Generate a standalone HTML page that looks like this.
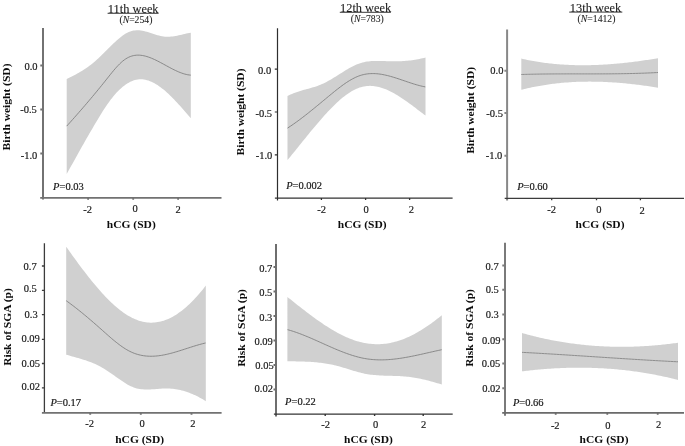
<!DOCTYPE html><html><head><meta charset="utf-8"><title>hCG and birth outcomes by gestational week</title><style>html,body{margin:0;padding:0;background:#fff;overflow:hidden;}svg{display:block;filter:grayscale(1);}</style></head><body>
<svg width="685" height="446" viewBox="0 0 685 446" font-family='"Liberation Serif", serif'>
<rect width="685" height="446" fill="#fff"/>
<g class="g">
<path d="M66.70,79.08 L68.21,78.32 L69.73,77.56 L71.24,76.78 L72.75,76.00 L74.27,75.20 L75.78,74.38 L77.29,73.55 L78.81,72.69 L80.32,71.81 L81.83,70.89 L83.35,69.95 L84.86,68.97 L86.37,67.96 L87.89,66.90 L89.40,65.80 L90.91,64.66 L92.43,63.47 L93.94,62.22 L95.45,60.92 L96.97,59.57 L98.48,58.17 L100.00,56.74 L101.51,55.27 L103.02,53.78 L104.54,52.28 L106.05,50.76 L107.56,49.25 L109.08,47.73 L110.59,46.24 L112.10,44.76 L113.62,43.31 L115.13,41.89 L116.64,40.51 L118.16,39.19 L119.67,37.92 L121.18,36.72 L122.70,35.59 L124.21,34.56 L125.72,33.61 L127.24,32.77 L128.75,32.04 L130.26,31.44 L131.78,30.96 L133.29,30.61 L134.80,30.38 L136.32,30.25 L137.83,30.24 L139.34,30.31 L140.86,30.47 L142.37,30.71 L143.88,31.02 L145.40,31.39 L146.91,31.80 L148.42,32.26 L149.94,32.74 L151.45,33.24 L152.96,33.74 L154.48,34.24 L155.99,34.72 L157.50,35.18 L159.02,35.59 L160.53,35.97 L162.05,36.28 L163.56,36.52 L165.07,36.68 L166.59,36.77 L168.10,36.77 L169.61,36.72 L171.13,36.60 L172.64,36.42 L174.15,36.20 L175.67,35.94 L177.18,35.65 L178.69,35.34 L180.21,35.00 L181.72,34.66 L183.23,34.30 L184.75,33.96 L186.26,33.62 L187.77,33.30 L189.29,33.00 L190.80,32.73 L190.80,118.31 L189.29,116.54 L187.77,114.77 L186.26,113.01 L184.75,111.26 L183.23,109.53 L181.72,107.81 L180.21,106.10 L178.69,104.43 L177.18,102.77 L175.67,101.15 L174.15,99.56 L172.64,98.00 L171.13,96.49 L169.61,95.01 L168.10,93.58 L166.59,92.20 L165.07,90.87 L163.56,89.60 L162.05,88.38 L160.53,87.23 L159.02,86.14 L157.50,85.12 L155.99,84.17 L154.48,83.29 L152.96,82.49 L151.45,81.77 L149.94,81.14 L148.42,80.59 L146.91,80.14 L145.40,79.77 L143.88,79.51 L142.37,79.34 L140.86,79.28 L139.34,79.32 L137.83,79.48 L136.32,79.74 L134.80,80.11 L133.29,80.59 L131.78,81.17 L130.26,81.86 L128.75,82.65 L127.24,83.54 L125.72,84.54 L124.21,85.64 L122.70,86.83 L121.18,88.13 L119.67,89.52 L118.16,91.01 L116.64,92.60 L115.13,94.28 L113.62,96.05 L112.10,97.92 L110.59,99.87 L109.08,101.92 L107.56,104.05 L106.05,106.25 L104.54,108.52 L103.02,110.85 L101.51,113.24 L100.00,115.68 L98.48,118.16 L96.97,120.68 L95.45,123.23 L93.94,125.79 L92.43,128.38 L90.91,130.98 L89.40,133.60 L87.89,136.23 L86.37,138.87 L84.86,141.52 L83.35,144.19 L81.83,146.87 L80.32,149.55 L78.81,152.25 L77.29,154.96 L75.78,157.67 L74.27,160.40 L72.75,163.13 L71.24,165.86 L69.73,168.61 L68.21,171.35 L66.70,174.11 Z" fill="#d0d0d0"/>
<path d="M66.70,126.14 L68.21,124.46 L69.73,122.78 L71.24,121.08 L72.75,119.38 L74.27,117.68 L75.78,115.97 L77.29,114.25 L78.81,112.52 L80.32,110.79 L81.83,109.05 L83.35,107.29 L84.86,105.54 L86.37,103.77 L87.89,101.99 L89.40,100.21 L90.91,98.42 L92.43,96.61 L93.94,94.80 L95.45,92.98 L96.97,91.14 L98.48,89.30 L100.00,87.45 L101.51,85.58 L103.02,83.71 L104.54,81.82 L106.05,79.92 L107.56,78.02 L109.08,76.11 L110.59,74.22 L112.10,72.36 L113.62,70.53 L115.13,68.76 L116.64,67.06 L118.16,65.43 L119.67,63.89 L121.18,62.45 L122.70,61.13 L124.21,59.94 L125.72,58.88 L127.24,57.97 L128.75,57.20 L130.26,56.56 L131.78,56.05 L133.29,55.65 L134.80,55.38 L136.32,55.21 L137.83,55.14 L139.34,55.17 L140.86,55.29 L142.37,55.49 L143.88,55.78 L145.40,56.14 L146.91,56.56 L148.42,57.05 L149.94,57.59 L151.45,58.19 L152.96,58.83 L154.48,59.51 L155.99,60.23 L157.50,60.98 L159.02,61.75 L160.53,62.55 L162.05,63.36 L163.56,64.19 L165.07,65.01 L166.59,65.84 L168.10,66.67 L169.61,67.49 L171.13,68.29 L172.64,69.08 L174.15,69.83 L175.67,70.56 L177.18,71.26 L178.69,71.92 L180.21,72.53 L181.72,73.09 L183.23,73.60 L184.75,74.05 L186.26,74.43 L187.77,74.75 L189.29,74.99 L190.80,75.15" fill="none" stroke="#7c7c7c" stroke-width="0.85"/>
<path d="M43,28V199.5M40.3,65.6H43M40.3,109.4H43M40.3,153.4H43" fill="none" stroke="#727272" stroke-width="2.0"/>
<path d="M40.2,197.9H221.5M88.1,197.9V199.70M133.2,197.9V199.70M178.1,197.9V199.70" fill="none" stroke="#727272" stroke-width="1.8"/>
<path d="M287.50,96.07 L289.00,95.29 L290.50,94.57 L292.00,93.91 L293.50,93.29 L295.00,92.71 L296.50,92.17 L298.00,91.66 L299.50,91.18 L301.00,90.73 L302.50,90.29 L304.00,89.87 L305.50,89.45 L307.00,89.04 L308.50,88.63 L310.00,88.22 L311.50,87.79 L313.00,87.35 L314.50,86.89 L316.00,86.40 L317.50,85.88 L319.00,85.33 L320.50,84.74 L322.00,84.11 L323.50,83.43 L325.00,82.70 L326.50,81.93 L328.00,81.12 L329.50,80.28 L331.00,79.40 L332.50,78.51 L334.00,77.59 L335.50,76.66 L337.00,75.72 L338.50,74.77 L340.00,73.82 L341.50,72.88 L343.00,71.94 L344.50,71.01 L346.00,70.10 L347.50,69.22 L349.00,68.36 L350.50,67.53 L352.00,66.73 L353.50,65.98 L355.00,65.27 L356.50,64.61 L358.00,64.00 L359.50,63.45 L361.00,62.96 L362.50,62.54 L364.00,62.17 L365.50,61.86 L367.00,61.60 L368.50,61.39 L370.00,61.22 L371.50,61.09 L373.00,60.99 L374.50,60.93 L376.00,60.89 L377.50,60.88 L379.00,60.89 L380.50,60.92 L382.00,60.96 L383.50,61.01 L385.00,61.07 L386.50,61.13 L388.00,61.19 L389.50,61.24 L391.00,61.28 L392.50,61.32 L394.00,61.33 L395.50,61.33 L397.00,61.31 L398.50,61.28 L400.00,61.23 L401.50,61.16 L403.00,61.08 L404.50,60.97 L406.00,60.85 L407.50,60.71 L409.00,60.56 L410.50,60.38 L412.00,60.19 L413.50,59.97 L415.00,59.74 L416.50,59.49 L418.00,59.22 L419.50,58.93 L421.00,58.62 L422.50,58.28 L424.00,57.93 L425.50,57.56 L425.50,115.62 L424.00,114.48 L422.50,113.33 L421.00,112.18 L419.50,111.03 L418.00,109.88 L416.50,108.74 L415.00,107.60 L413.50,106.46 L412.00,105.34 L410.50,104.23 L409.00,103.13 L407.50,102.04 L406.00,100.97 L404.50,99.93 L403.00,98.90 L401.50,97.90 L400.00,96.92 L398.50,95.97 L397.00,95.05 L395.50,94.16 L394.00,93.31 L392.50,92.49 L391.00,91.71 L389.50,90.97 L388.00,90.27 L386.50,89.61 L385.00,89.00 L383.50,88.44 L382.00,87.93 L380.50,87.47 L379.00,87.06 L377.50,86.71 L376.00,86.42 L374.50,86.19 L373.00,86.02 L371.50,85.91 L370.00,85.87 L368.50,85.90 L367.00,86.00 L365.50,86.17 L364.00,86.41 L362.50,86.73 L361.00,87.13 L359.50,87.61 L358.00,88.16 L356.50,88.79 L355.00,89.49 L353.50,90.26 L352.00,91.09 L350.50,91.99 L349.00,92.94 L347.50,93.96 L346.00,95.04 L344.50,96.17 L343.00,97.35 L341.50,98.59 L340.00,99.87 L338.50,101.20 L337.00,102.57 L335.50,103.98 L334.00,105.43 L332.50,106.92 L331.00,108.44 L329.50,110.00 L328.00,111.58 L326.50,113.19 L325.00,114.83 L323.50,116.50 L322.00,118.19 L320.50,119.90 L319.00,121.63 L317.50,123.38 L316.00,125.15 L314.50,126.93 L313.00,128.73 L311.50,130.55 L310.00,132.37 L308.50,134.20 L307.00,136.05 L305.50,137.89 L304.00,139.75 L302.50,141.60 L301.00,143.46 L299.50,145.32 L298.00,147.18 L296.50,149.04 L295.00,150.89 L293.50,152.74 L292.00,154.58 L290.50,156.41 L289.00,158.23 L287.50,160.03 Z" fill="#d0d0d0"/>
<path d="M287.50,128.13 L289.01,127.14 L290.53,126.14 L292.04,125.11 L293.56,124.06 L295.07,122.99 L296.59,121.90 L298.10,120.80 L299.61,119.68 L301.13,118.54 L302.64,117.39 L304.16,116.23 L305.67,115.05 L307.19,113.86 L308.70,112.66 L310.21,111.45 L311.73,110.23 L313.24,109.01 L314.76,107.77 L316.27,106.53 L317.79,105.29 L319.30,104.04 L320.81,102.79 L322.33,101.53 L323.84,100.28 L325.36,99.02 L326.87,97.76 L328.39,96.51 L329.90,95.25 L331.41,94.00 L332.93,92.76 L334.44,91.53 L335.96,90.32 L337.47,89.12 L338.99,87.94 L340.50,86.79 L342.01,85.66 L343.53,84.57 L345.04,83.50 L346.56,82.48 L348.07,81.50 L349.59,80.56 L351.10,79.67 L352.61,78.83 L354.13,78.05 L355.64,77.32 L357.16,76.66 L358.67,76.05 L360.19,75.52 L361.70,75.06 L363.21,74.66 L364.73,74.33 L366.24,74.06 L367.76,73.85 L369.27,73.70 L370.79,73.61 L372.30,73.57 L373.81,73.58 L375.33,73.64 L376.84,73.74 L378.36,73.89 L379.87,74.08 L381.39,74.31 L382.90,74.58 L384.41,74.88 L385.93,75.21 L387.44,75.57 L388.96,75.95 L390.47,76.36 L391.99,76.79 L393.50,77.25 L395.01,77.71 L396.53,78.20 L398.04,78.69 L399.56,79.20 L401.07,79.71 L402.59,80.22 L404.10,80.74 L405.61,81.26 L407.13,81.78 L408.64,82.29 L410.16,82.79 L411.67,83.29 L413.19,83.77 L414.70,84.24 L416.21,84.69 L417.73,85.12 L419.24,85.53 L420.76,85.91 L422.27,86.27 L423.79,86.60 L425.30,86.90" fill="none" stroke="#7c7c7c" stroke-width="0.85"/>
<path d="M277.5,28.3V200.5M274.8,69.2H277.5M274.8,112.0H277.5M274.8,154.9H277.5" fill="none" stroke="#2e2e2e" stroke-width="1.2"/>
<path d="M274.9,198.2H452.6M321.4,198.2V200.00M365.6,198.2V200.00M409.6,198.2V200.00" fill="none" stroke="#333333" stroke-width="1.3"/>
<path d="M521.30,58.60 L522.80,58.94 L524.30,59.27 L525.81,59.59 L527.31,59.90 L528.81,60.20 L530.31,60.49 L531.82,60.77 L533.32,61.04 L534.82,61.31 L536.32,61.56 L537.82,61.80 L539.33,62.04 L540.83,62.26 L542.33,62.48 L543.83,62.69 L545.34,62.89 L546.84,63.08 L548.34,63.26 L549.84,63.43 L551.34,63.60 L552.85,63.75 L554.35,63.90 L555.85,64.04 L557.35,64.17 L558.85,64.30 L560.36,64.41 L561.86,64.52 L563.36,64.62 L564.86,64.71 L566.37,64.79 L567.87,64.87 L569.37,64.94 L570.87,65.00 L572.37,65.05 L573.88,65.10 L575.38,65.14 L576.88,65.17 L578.38,65.20 L579.89,65.21 L581.39,65.22 L582.89,65.23 L584.39,65.22 L585.89,65.21 L587.40,65.20 L588.90,65.17 L590.40,65.14 L591.90,65.11 L593.41,65.07 L594.91,65.02 L596.41,64.96 L597.91,64.90 L599.41,64.83 L600.92,64.76 L602.42,64.68 L603.92,64.59 L605.42,64.50 L606.93,64.40 L608.43,64.30 L609.93,64.19 L611.43,64.08 L612.93,63.96 L614.44,63.84 L615.94,63.71 L617.44,63.57 L618.94,63.43 L620.45,63.29 L621.95,63.14 L623.45,62.98 L624.95,62.82 L626.45,62.66 L627.96,62.49 L629.46,62.31 L630.96,62.14 L632.46,61.95 L633.96,61.77 L635.47,61.57 L636.97,61.38 L638.47,61.18 L639.97,60.97 L641.48,60.77 L642.98,60.55 L644.48,60.34 L645.98,60.12 L647.48,59.89 L648.99,59.67 L650.49,59.44 L651.99,59.20 L653.49,58.97 L655.00,58.72 L656.50,58.48 L658.00,58.23 L658.00,87.68 L656.50,87.44 L655.00,87.21 L653.49,86.97 L651.99,86.74 L650.49,86.52 L648.99,86.30 L647.48,86.08 L645.98,85.87 L644.48,85.66 L642.98,85.45 L641.48,85.25 L639.97,85.06 L638.47,84.87 L636.97,84.68 L635.47,84.50 L633.96,84.33 L632.46,84.16 L630.96,83.99 L629.46,83.83 L627.96,83.67 L626.45,83.52 L624.95,83.37 L623.45,83.23 L621.95,83.10 L620.45,82.97 L618.94,82.85 L617.44,82.73 L615.94,82.61 L614.44,82.51 L612.93,82.40 L611.43,82.31 L609.93,82.22 L608.43,82.14 L606.93,82.06 L605.42,81.99 L603.92,81.92 L602.42,81.86 L600.92,81.81 L599.41,81.76 L597.91,81.72 L596.41,81.69 L594.91,81.66 L593.41,81.64 L591.90,81.63 L590.40,81.62 L588.90,81.62 L587.40,81.63 L585.89,81.64 L584.39,81.66 L582.89,81.69 L581.39,81.73 L579.89,81.77 L578.38,81.82 L576.88,81.87 L575.38,81.94 L573.88,82.01 L572.37,82.09 L570.87,82.18 L569.37,82.27 L567.87,82.38 L566.37,82.49 L564.86,82.61 L563.36,82.74 L561.86,82.87 L560.36,83.01 L558.85,83.16 L557.35,83.32 L555.85,83.49 L554.35,83.67 L552.85,83.85 L551.34,84.05 L549.84,84.25 L548.34,84.46 L546.84,84.68 L545.34,84.91 L543.83,85.15 L542.33,85.39 L540.83,85.65 L539.33,85.91 L537.82,86.19 L536.32,86.47 L534.82,86.76 L533.32,87.06 L531.82,87.37 L530.31,87.69 L528.81,88.02 L527.31,88.36 L525.81,88.71 L524.30,89.07 L522.80,89.44 L521.30,89.82 Z" fill="#d0d0d0"/>
<path d="M521.30,74.50 L522.80,74.45 L524.30,74.41 L525.81,74.37 L527.31,74.33 L528.81,74.29 L530.31,74.25 L531.82,74.22 L533.32,74.19 L534.82,74.16 L536.32,74.13 L537.82,74.11 L539.33,74.08 L540.83,74.06 L542.33,74.04 L543.83,74.02 L545.34,74.01 L546.84,73.99 L548.34,73.98 L549.84,73.96 L551.34,73.95 L552.85,73.94 L554.35,73.93 L555.85,73.92 L557.35,73.92 L558.85,73.91 L560.36,73.91 L561.86,73.90 L563.36,73.90 L564.86,73.90 L566.37,73.89 L567.87,73.89 L569.37,73.89 L570.87,73.89 L572.37,73.89 L573.88,73.89 L575.38,73.89 L576.88,73.89 L578.38,73.89 L579.89,73.90 L581.39,73.90 L582.89,73.90 L584.39,73.90 L585.89,73.90 L587.40,73.90 L588.90,73.90 L590.40,73.90 L591.90,73.90 L593.41,73.90 L594.91,73.90 L596.41,73.89 L597.91,73.89 L599.41,73.89 L600.92,73.88 L602.42,73.88 L603.92,73.87 L605.42,73.87 L606.93,73.86 L608.43,73.85 L609.93,73.84 L611.43,73.83 L612.93,73.81 L614.44,73.80 L615.94,73.78 L617.44,73.77 L618.94,73.75 L620.45,73.73 L621.95,73.70 L623.45,73.68 L624.95,73.65 L626.45,73.63 L627.96,73.60 L629.46,73.57 L630.96,73.53 L632.46,73.50 L633.96,73.46 L635.47,73.42 L636.97,73.38 L638.47,73.33 L639.97,73.28 L641.48,73.23 L642.98,73.18 L644.48,73.13 L645.98,73.07 L647.48,73.01 L648.99,72.94 L650.49,72.88 L651.99,72.81 L653.49,72.74 L655.00,72.66 L656.50,72.58 L658.00,72.50" fill="none" stroke="#8e8e8e" stroke-width="1.0"/>
<path d="M507.1,29.4V200.5M504.4,70.8H507.1M504.4,113.0H507.1M504.4,155.8H507.1" fill="none" stroke="#888888" stroke-width="2.0"/>
<path d="M504.7,198.4H684M551.7,198.4V200.20M596.5,198.4V200.20M640.4,198.4V200.20" fill="none" stroke="#3c3c3c" stroke-width="1.3"/>
<path d="M66.20,246.75 L67.70,248.86 L69.20,250.97 L70.70,253.06 L72.20,255.15 L73.71,257.22 L75.21,259.29 L76.71,261.34 L78.21,263.38 L79.71,265.40 L81.21,267.41 L82.71,269.40 L84.21,271.37 L85.71,273.32 L87.22,275.26 L88.72,277.17 L90.22,279.06 L91.72,280.92 L93.22,282.76 L94.72,284.57 L96.22,286.35 L97.72,288.11 L99.22,289.84 L100.72,291.53 L102.23,293.19 L103.73,294.82 L105.23,296.42 L106.73,297.98 L108.23,299.50 L109.73,300.98 L111.23,302.43 L112.73,303.83 L114.23,305.20 L115.74,306.52 L117.24,307.79 L118.74,309.02 L120.24,310.21 L121.74,311.35 L123.24,312.44 L124.74,313.48 L126.24,314.47 L127.74,315.40 L129.25,316.29 L130.75,317.12 L132.25,317.89 L133.75,318.61 L135.25,319.27 L136.75,319.87 L138.25,320.41 L139.75,320.89 L141.25,321.32 L142.75,321.68 L144.26,321.99 L145.76,322.24 L147.26,322.42 L148.76,322.55 L150.26,322.63 L151.76,322.64 L153.26,322.59 L154.76,322.49 L156.26,322.33 L157.77,322.11 L159.27,321.83 L160.77,321.49 L162.27,321.09 L163.77,320.63 L165.27,320.12 L166.77,319.55 L168.27,318.91 L169.77,318.22 L171.28,317.47 L172.78,316.67 L174.28,315.80 L175.78,314.88 L177.28,313.91 L178.78,312.87 L180.28,311.79 L181.78,310.65 L183.28,309.45 L184.78,308.21 L186.29,306.91 L187.79,305.56 L189.29,304.16 L190.79,302.71 L192.29,301.21 L193.79,299.67 L195.29,298.07 L196.79,296.43 L198.29,294.74 L199.80,293.00 L201.30,291.22 L202.80,289.40 L204.30,287.53 L205.80,285.62 L205.80,401.14 L204.30,400.22 L202.80,399.33 L201.30,398.47 L199.80,397.64 L198.29,396.85 L196.79,396.09 L195.29,395.37 L193.79,394.69 L192.29,394.04 L190.79,393.42 L189.29,392.84 L187.79,392.29 L186.29,391.78 L184.78,391.31 L183.28,390.87 L181.78,390.47 L180.28,390.10 L178.78,389.78 L177.28,389.49 L175.78,389.23 L174.28,389.01 L172.78,388.84 L171.28,388.69 L169.77,388.59 L168.27,388.52 L166.77,388.50 L165.27,388.51 L163.77,388.55 L162.27,388.62 L160.77,388.71 L159.27,388.81 L157.77,388.93 L156.26,389.04 L154.76,389.16 L153.26,389.27 L151.76,389.37 L150.26,389.44 L148.76,389.50 L147.26,389.52 L145.76,389.51 L144.26,389.46 L142.75,389.36 L141.25,389.21 L139.75,388.99 L138.25,388.72 L136.75,388.38 L135.25,387.96 L133.75,387.46 L132.25,386.87 L130.75,386.20 L129.25,385.45 L127.74,384.64 L126.24,383.76 L124.74,382.84 L123.24,381.87 L121.74,380.87 L120.24,379.84 L118.74,378.79 L117.24,377.74 L115.74,376.68 L114.23,375.62 L112.73,374.57 L111.23,373.52 L109.73,372.49 L108.23,371.47 L106.73,370.48 L105.23,369.52 L103.73,368.58 L102.23,367.69 L100.72,366.83 L99.22,366.02 L97.72,365.25 L96.22,364.52 L94.72,363.84 L93.22,363.18 L91.72,362.57 L90.22,361.98 L88.72,361.42 L87.22,360.89 L85.71,360.37 L84.21,359.88 L82.71,359.41 L81.21,358.95 L79.71,358.51 L78.21,358.07 L76.71,357.64 L75.21,357.22 L73.71,356.80 L72.20,356.38 L70.70,355.95 L69.20,355.52 L67.70,355.08 L66.20,354.63 Z" fill="#d0d0d0"/>
<path d="M66.20,300.69 L67.72,301.78 L69.23,302.89 L70.75,304.02 L72.26,305.16 L73.78,306.31 L75.29,307.48 L76.81,308.67 L78.32,309.87 L79.84,311.08 L81.35,312.31 L82.87,313.54 L84.38,314.79 L85.90,316.06 L87.41,317.33 L88.93,318.61 L90.44,319.90 L91.96,321.20 L93.47,322.51 L94.99,323.83 L96.50,325.15 L98.02,326.49 L99.53,327.83 L101.05,329.17 L102.57,330.52 L104.08,331.87 L105.60,333.22 L107.11,334.56 L108.63,335.90 L110.14,337.21 L111.66,338.52 L113.17,339.80 L114.69,341.05 L116.20,342.28 L117.72,343.47 L119.23,344.62 L120.75,345.74 L122.26,346.81 L123.78,347.83 L125.29,348.80 L126.81,349.72 L128.32,350.57 L129.84,351.36 L131.35,352.09 L132.87,352.75 L134.38,353.35 L135.90,353.88 L137.42,354.36 L138.93,354.78 L140.45,355.14 L141.96,355.45 L143.48,355.70 L144.99,355.91 L146.51,356.06 L148.02,356.17 L149.54,356.23 L151.05,356.25 L152.57,356.23 L154.08,356.17 L155.60,356.07 L157.11,355.93 L158.63,355.76 L160.14,355.55 L161.66,355.32 L163.17,355.05 L164.69,354.76 L166.20,354.44 L167.72,354.10 L169.23,353.73 L170.75,353.35 L172.27,352.94 L173.78,352.52 L175.30,352.09 L176.81,351.64 L178.33,351.18 L179.84,350.71 L181.36,350.23 L182.87,349.75 L184.39,349.26 L185.90,348.77 L187.42,348.28 L188.93,347.79 L190.45,347.30 L191.96,346.82 L193.48,346.34 L194.99,345.87 L196.51,345.41 L198.02,344.96 L199.54,344.53 L201.05,344.11 L202.57,343.71 L204.08,343.33 L205.60,342.97" fill="none" stroke="#7c7c7c" stroke-width="0.85"/>
<path d="M44.4,243.2V412.9M41.9,266H44.4M41.9,290.3H44.4M41.9,314.6H44.4M41.9,339.4H44.4M41.9,363.5H44.4M41.9,387.8H44.4" fill="none" stroke="#3c3c3c" stroke-width="1.3"/>
<path d="M41.9,412.9H221.6M90.2,412.9V414.70M140.8,412.9V414.70M191.5,412.9V414.70" fill="none" stroke="#727272" stroke-width="1.9"/>
<path d="M287.40,296.95 L288.91,298.16 L290.43,299.37 L291.94,300.58 L293.45,301.78 L294.97,302.99 L296.48,304.19 L298.00,305.38 L299.51,306.57 L301.02,307.76 L302.54,308.94 L304.05,310.11 L305.56,311.27 L307.08,312.43 L308.59,313.57 L310.11,314.71 L311.62,315.84 L313.13,316.95 L314.65,318.06 L316.16,319.15 L317.67,320.22 L319.19,321.29 L320.70,322.33 L322.22,323.37 L323.73,324.38 L325.24,325.38 L326.76,326.36 L328.27,327.32 L329.78,328.27 L331.30,329.19 L332.81,330.09 L334.33,330.97 L335.84,331.83 L337.35,332.67 L338.87,333.48 L340.38,334.27 L341.89,335.03 L343.41,335.77 L344.92,336.48 L346.44,337.17 L347.95,337.82 L349.46,338.45 L350.98,339.05 L352.49,339.62 L354.00,340.15 L355.52,340.66 L357.03,341.13 L358.55,341.57 L360.06,341.98 L361.57,342.35 L363.09,342.69 L364.60,342.99 L366.11,343.26 L367.63,343.50 L369.14,343.70 L370.65,343.86 L372.17,343.99 L373.68,344.09 L375.20,344.15 L376.71,344.18 L378.22,344.18 L379.74,344.14 L381.25,344.07 L382.76,343.96 L384.28,343.82 L385.79,343.64 L387.31,343.43 L388.82,343.19 L390.33,342.91 L391.85,342.60 L393.36,342.25 L394.87,341.87 L396.39,341.46 L397.90,341.01 L399.42,340.53 L400.93,340.01 L402.44,339.46 L403.96,338.88 L405.47,338.26 L406.98,337.61 L408.50,336.94 L410.01,336.23 L411.53,335.49 L413.04,334.72 L414.55,333.92 L416.07,333.09 L417.58,332.24 L419.09,331.36 L420.61,330.45 L422.12,329.51 L423.64,328.55 L425.15,327.56 L426.66,326.55 L428.18,325.52 L429.69,324.46 L431.20,323.38 L432.72,322.28 L434.23,321.15 L435.75,320.01 L437.26,318.84 L438.77,317.65 L440.29,316.45 L441.80,315.22 L441.80,384.54 L440.29,384.06 L438.77,383.59 L437.26,383.13 L435.75,382.68 L434.23,382.24 L432.72,381.81 L431.20,381.39 L429.69,380.98 L428.18,380.58 L426.66,380.20 L425.15,379.83 L423.64,379.48 L422.12,379.14 L420.61,378.81 L419.09,378.50 L417.58,378.21 L416.07,377.93 L414.55,377.67 L413.04,377.43 L411.53,377.20 L410.01,377.00 L408.50,376.81 L406.98,376.65 L405.47,376.50 L403.96,376.38 L402.44,376.27 L400.93,376.18 L399.42,376.10 L397.90,376.03 L396.39,375.97 L394.87,375.92 L393.36,375.88 L391.85,375.84 L390.33,375.80 L388.82,375.76 L387.31,375.72 L385.79,375.68 L384.28,375.63 L382.76,375.58 L381.25,375.51 L379.74,375.44 L378.22,375.35 L376.71,375.24 L375.20,375.12 L373.68,374.98 L372.17,374.82 L370.65,374.64 L369.14,374.43 L367.63,374.20 L366.11,373.94 L364.60,373.65 L363.09,373.32 L361.57,372.97 L360.06,372.60 L358.55,372.20 L357.03,371.78 L355.52,371.35 L354.00,370.91 L352.49,370.45 L350.98,369.98 L349.46,369.52 L347.95,369.05 L346.44,368.58 L344.92,368.11 L343.41,367.65 L341.89,367.20 L340.38,366.77 L338.87,366.35 L337.35,365.94 L335.84,365.56 L334.33,365.20 L332.81,364.87 L331.30,364.55 L329.78,364.25 L328.27,363.97 L326.76,363.71 L325.24,363.47 L323.73,363.24 L322.22,363.03 L320.70,362.84 L319.19,362.66 L317.67,362.50 L316.16,362.35 L314.65,362.21 L313.13,362.09 L311.62,361.97 L310.11,361.87 L308.59,361.79 L307.08,361.71 L305.56,361.64 L304.05,361.58 L302.54,361.53 L301.02,361.48 L299.51,361.44 L298.00,361.41 L296.48,361.39 L294.97,361.37 L293.45,361.35 L291.94,361.34 L290.43,361.33 L288.91,361.33 L287.40,361.33 Z" fill="#d0d0d0"/>
<path d="M287.50,329.66 L289.01,330.08 L290.52,330.52 L292.04,330.98 L293.55,331.47 L295.06,331.97 L296.57,332.50 L298.08,333.04 L299.59,333.59 L301.11,334.17 L302.62,334.75 L304.13,335.35 L305.64,335.97 L307.15,336.59 L308.66,337.22 L310.18,337.87 L311.69,338.52 L313.20,339.18 L314.71,339.84 L316.22,340.51 L317.74,341.19 L319.25,341.86 L320.76,342.54 L322.27,343.22 L323.78,343.90 L325.29,344.58 L326.81,345.26 L328.32,345.93 L329.83,346.60 L331.34,347.26 L332.85,347.92 L334.36,348.57 L335.88,349.22 L337.39,349.85 L338.90,350.47 L340.41,351.08 L341.92,351.68 L343.44,352.27 L344.95,352.84 L346.46,353.39 L347.97,353.93 L349.48,354.45 L350.99,354.96 L352.51,355.44 L354.02,355.90 L355.53,356.34 L357.04,356.76 L358.55,357.16 L360.06,357.53 L361.58,357.87 L363.09,358.19 L364.60,358.48 L366.11,358.74 L367.62,358.97 L369.14,359.17 L370.65,359.35 L372.16,359.50 L373.67,359.62 L375.18,359.72 L376.69,359.79 L378.21,359.85 L379.72,359.87 L381.23,359.88 L382.74,359.86 L384.25,359.82 L385.76,359.77 L387.28,359.69 L388.79,359.59 L390.30,359.48 L391.81,359.34 L393.32,359.20 L394.84,359.03 L396.35,358.85 L397.86,358.65 L399.37,358.45 L400.88,358.22 L402.39,357.99 L403.91,357.74 L405.42,357.48 L406.93,357.21 L408.44,356.94 L409.95,356.65 L411.46,356.35 L412.98,356.05 L414.49,355.74 L416.00,355.42 L417.51,355.10 L419.02,354.77 L420.54,354.44 L422.05,354.10 L423.56,353.76 L425.07,353.42 L426.58,353.08 L428.09,352.74 L429.61,352.39 L431.12,352.05 L432.63,351.71 L434.14,351.37 L435.65,351.03 L437.16,350.70 L438.68,350.37 L440.19,350.05 L441.70,349.73" fill="none" stroke="#7c7c7c" stroke-width="0.85"/>
<path d="M276.0,244V416.6M273.5,267H276.0M273.5,291.4H276.0M273.5,316H276.0M273.5,340.4H276.0M273.5,365H276.0M273.5,389.4H276.0" fill="none" stroke="#6e6e6e" stroke-width="2.0"/>
<path d="M273.9,414.1H452.7M325.2,414.1V415.90M374.6,414.1V415.90M423.2,414.1V415.90" fill="none" stroke="#353535" stroke-width="1.4"/>
<path d="M522.00,332.99 L523.50,333.41 L525.00,333.83 L526.50,334.24 L528.00,334.64 L529.50,335.04 L531.00,335.43 L532.50,335.81 L534.00,336.19 L535.50,336.56 L537.00,336.92 L538.50,337.28 L540.00,337.63 L541.50,337.97 L543.00,338.30 L544.50,338.63 L546.00,338.95 L547.50,339.27 L549.00,339.58 L550.50,339.88 L552.00,340.17 L553.50,340.46 L555.00,340.74 L556.50,341.02 L558.00,341.29 L559.50,341.55 L561.00,341.80 L562.50,342.05 L564.00,342.29 L565.50,342.53 L567.00,342.76 L568.50,342.98 L570.00,343.20 L571.50,343.41 L573.00,343.61 L574.50,343.81 L576.00,344.00 L577.50,344.18 L579.00,344.36 L580.50,344.53 L582.00,344.70 L583.50,344.85 L585.00,345.01 L586.50,345.15 L588.00,345.29 L589.50,345.42 L591.00,345.55 L592.50,345.67 L594.00,345.79 L595.50,345.89 L597.00,346.00 L598.50,346.09 L600.00,346.18 L601.50,346.27 L603.00,346.34 L604.50,346.41 L606.00,346.48 L607.50,346.54 L609.00,346.59 L610.50,346.64 L612.00,346.68 L613.50,346.72 L615.00,346.74 L616.50,346.77 L618.00,346.78 L619.50,346.79 L621.00,346.80 L622.50,346.80 L624.00,346.79 L625.50,346.78 L627.00,346.76 L628.50,346.74 L630.00,346.71 L631.50,346.67 L633.00,346.63 L634.50,346.58 L636.00,346.53 L637.50,346.47 L639.00,346.40 L640.50,346.33 L642.00,346.26 L643.50,346.17 L645.00,346.09 L646.50,345.99 L648.00,345.89 L649.50,345.79 L651.00,345.68 L652.50,345.56 L654.00,345.44 L655.50,345.31 L657.00,345.18 L658.50,345.04 L660.00,344.90 L661.50,344.75 L663.00,344.59 L664.50,344.43 L666.00,344.27 L667.50,344.10 L669.00,343.92 L670.50,343.74 L672.00,343.55 L673.50,343.36 L675.00,343.16 L676.50,342.95 L678.00,342.75 L678.00,379.90 L676.50,379.52 L675.00,379.14 L673.50,378.78 L672.00,378.41 L670.50,378.06 L669.00,377.71 L667.50,377.37 L666.00,377.03 L664.50,376.70 L663.00,376.38 L661.50,376.06 L660.00,375.75 L658.50,375.44 L657.00,375.14 L655.50,374.85 L654.00,374.56 L652.50,374.28 L651.00,374.01 L649.50,373.74 L648.00,373.48 L646.50,373.22 L645.00,372.97 L643.50,372.73 L642.00,372.49 L640.50,372.26 L639.00,372.03 L637.50,371.81 L636.00,371.60 L634.50,371.39 L633.00,371.19 L631.50,370.99 L630.00,370.80 L628.50,370.62 L627.00,370.44 L625.50,370.26 L624.00,370.10 L622.50,369.94 L621.00,369.78 L619.50,369.63 L618.00,369.49 L616.50,369.35 L615.00,369.22 L613.50,369.09 L612.00,368.97 L610.50,368.85 L609.00,368.74 L607.50,368.64 L606.00,368.54 L604.50,368.44 L603.00,368.36 L601.50,368.27 L600.00,368.20 L598.50,368.13 L597.00,368.06 L595.50,368.00 L594.00,367.95 L592.50,367.90 L591.00,367.85 L589.50,367.81 L588.00,367.78 L586.50,367.75 L585.00,367.73 L583.50,367.71 L582.00,367.70 L580.50,367.69 L579.00,367.69 L577.50,367.69 L576.00,367.70 L574.50,367.72 L573.00,367.74 L571.50,367.76 L570.00,367.79 L568.50,367.83 L567.00,367.87 L565.50,367.91 L564.00,367.96 L562.50,368.01 L561.00,368.07 L559.50,368.14 L558.00,368.21 L556.50,368.28 L555.00,368.36 L553.50,368.45 L552.00,368.54 L550.50,368.63 L549.00,368.73 L547.50,368.84 L546.00,368.95 L544.50,369.06 L543.00,369.18 L541.50,369.30 L540.00,369.43 L538.50,369.56 L537.00,369.70 L535.50,369.85 L534.00,369.99 L532.50,370.14 L531.00,370.30 L529.50,370.46 L528.00,370.63 L526.50,370.80 L525.00,370.97 L523.50,371.15 L522.00,371.34 Z" fill="#d0d0d0"/>
<path d="M522.00,352.34 L523.50,352.42 L525.00,352.50 L526.50,352.58 L528.00,352.67 L529.50,352.75 L531.00,352.83 L532.50,352.92 L534.00,353.00 L535.50,353.09 L537.00,353.17 L538.50,353.26 L540.00,353.35 L541.50,353.43 L543.00,353.52 L544.50,353.61 L546.00,353.70 L547.50,353.79 L549.00,353.88 L550.50,353.97 L552.00,354.06 L553.50,354.15 L555.00,354.24 L556.50,354.34 L558.00,354.43 L559.50,354.52 L561.00,354.62 L562.50,354.71 L564.00,354.80 L565.50,354.90 L567.00,354.99 L568.50,355.09 L570.00,355.19 L571.50,355.28 L573.00,355.38 L574.50,355.47 L576.00,355.57 L577.50,355.67 L579.00,355.76 L580.50,355.86 L582.00,355.96 L583.50,356.06 L585.00,356.15 L586.50,356.25 L588.00,356.35 L589.50,356.45 L591.00,356.54 L592.50,356.64 L594.00,356.74 L595.50,356.84 L597.00,356.94 L598.50,357.03 L600.00,357.13 L601.50,357.23 L603.00,357.33 L604.50,357.43 L606.00,357.52 L607.50,357.62 L609.00,357.72 L610.50,357.82 L612.00,357.91 L613.50,358.01 L615.00,358.11 L616.50,358.20 L618.00,358.30 L619.50,358.40 L621.00,358.49 L622.50,358.59 L624.00,358.68 L625.50,358.78 L627.00,358.87 L628.50,358.97 L630.00,359.06 L631.50,359.15 L633.00,359.25 L634.50,359.34 L636.00,359.43 L637.50,359.52 L639.00,359.62 L640.50,359.71 L642.00,359.80 L643.50,359.89 L645.00,359.98 L646.50,360.07 L648.00,360.16 L649.50,360.24 L651.00,360.33 L652.50,360.42 L654.00,360.51 L655.50,360.59 L657.00,360.68 L658.50,360.76 L660.00,360.85 L661.50,360.93 L663.00,361.01 L664.50,361.09 L666.00,361.17 L667.50,361.25 L669.00,361.33 L670.50,361.41 L672.00,361.49 L673.50,361.57 L675.00,361.65 L676.50,361.72 L678.00,361.80" fill="none" stroke="#8e8e8e" stroke-width="1.0"/>
<path d="M505.0,242.7V415.8M502.3,265.5H505.0M502.3,289.8H505.0M502.3,314.5H505.0M502.3,339.3H505.0M502.3,363.6H505.0M502.3,388.3H505.0" fill="none" stroke="#7a7a7a" stroke-width="2.0"/>
<path d="M502.2,412.9H684M555.7,412.9V414.70M607.3,412.9V414.70M657.7,412.9V414.70" fill="none" stroke="#6a6a6a" stroke-width="1.8"/>
<path d="M107.6,13.3H158.6" stroke="#3a3a3a" stroke-width="1"/>
<path d="M339.8,12.3H390.9" stroke="#3a3a3a" stroke-width="1"/>
<path d="M569.2,12.1H622.3" stroke="#3a3a3a" stroke-width="1"/>
</g>
<text x="37.56" y="69.65" font-size="10.5" fill="#1a1a1a" stroke="#1a1a1a" stroke-width="0.18" text-anchor="end">0.0</text>
<text x="36.87" y="113.11" font-size="10.5" fill="#1a1a1a" stroke="#1a1a1a" stroke-width="0.18" text-anchor="end">-0.5</text>
<text x="37.39" y="158.55" font-size="10.5" fill="#1a1a1a" stroke="#1a1a1a" stroke-width="0.18" text-anchor="end">-1.0</text>
<text x="271.22" y="73.67" font-size="10.5" fill="#1a1a1a" stroke="#1a1a1a" stroke-width="0.18" text-anchor="end">0.0</text>
<text x="272.03" y="116.92" font-size="10.5" fill="#1a1a1a" stroke="#1a1a1a" stroke-width="0.18" text-anchor="end">-0.5</text>
<text x="272.39" y="159.49" font-size="10.5" fill="#1a1a1a" stroke="#1a1a1a" stroke-width="0.18" text-anchor="end">-1.0</text>
<text x="503.38" y="73.67" font-size="10.5" fill="#1a1a1a" stroke="#1a1a1a" stroke-width="0.18" text-anchor="end">0.0</text>
<text x="502.99" y="116.84" font-size="10.5" fill="#1a1a1a" stroke="#1a1a1a" stroke-width="0.18" text-anchor="end">-0.5</text>
<text x="502.39" y="159.23" font-size="10.5" fill="#1a1a1a" stroke="#1a1a1a" stroke-width="0.18" text-anchor="end">-1.0</text>
<text x="36.74" y="269.58" font-size="10.5" fill="#1a1a1a" stroke="#1a1a1a" stroke-width="0.18" text-anchor="end">0.7</text>
<text x="36.76" y="292.03" font-size="10.5" fill="#1a1a1a" stroke="#1a1a1a" stroke-width="0.18" text-anchor="end">0.5</text>
<text x="37.74" y="317.54" font-size="10.5" fill="#1a1a1a" stroke="#1a1a1a" stroke-width="0.18" text-anchor="end">0.3</text>
<text x="39.84" y="342.10" font-size="10.5" fill="#1a1a1a" stroke="#1a1a1a" stroke-width="0.18" text-anchor="end">0.09</text>
<text x="39.90" y="367.01" font-size="10.5" fill="#1a1a1a" stroke="#1a1a1a" stroke-width="0.18" text-anchor="end">0.05</text>
<text x="39.90" y="389.91" font-size="10.5" fill="#1a1a1a" stroke="#1a1a1a" stroke-width="0.18" text-anchor="end">0.02</text>
<text x="272.25" y="271.65" font-size="10.5" fill="#1a1a1a" stroke="#1a1a1a" stroke-width="0.18" text-anchor="end">0.7</text>
<text x="272.32" y="295.56" font-size="10.5" fill="#1a1a1a" stroke="#1a1a1a" stroke-width="0.18" text-anchor="end">0.5</text>
<text x="272.30" y="321.39" font-size="10.5" fill="#1a1a1a" stroke="#1a1a1a" stroke-width="0.18" text-anchor="end">0.3</text>
<text x="272.79" y="345.35" font-size="10.5" fill="#1a1a1a" stroke="#1a1a1a" stroke-width="0.18" text-anchor="end">0.09</text>
<text x="273.66" y="369.21" font-size="10.5" fill="#1a1a1a" stroke="#1a1a1a" stroke-width="0.18" text-anchor="end">0.05</text>
<text x="272.91" y="392.41" font-size="10.5" fill="#1a1a1a" stroke="#1a1a1a" stroke-width="0.18" text-anchor="end">0.02</text>
<text x="498.73" y="269.78" font-size="10.5" fill="#1a1a1a" stroke="#1a1a1a" stroke-width="0.18" text-anchor="end">0.7</text>
<text x="498.87" y="292.89" font-size="10.5" fill="#1a1a1a" stroke="#1a1a1a" stroke-width="0.18" text-anchor="end">0.5</text>
<text x="498.82" y="318.28" font-size="10.5" fill="#1a1a1a" stroke="#1a1a1a" stroke-width="0.18" text-anchor="end">0.3</text>
<text x="500.48" y="343.80" font-size="10.5" fill="#1a1a1a" stroke="#1a1a1a" stroke-width="0.18" text-anchor="end">0.09</text>
<text x="500.15" y="366.70" font-size="10.5" fill="#1a1a1a" stroke="#1a1a1a" stroke-width="0.18" text-anchor="end">0.05</text>
<text x="500.56" y="392.37" font-size="10.5" fill="#1a1a1a" stroke="#1a1a1a" stroke-width="0.18" text-anchor="end">0.02</text>
<text x="87.72" y="212.56" font-size="10.5" fill="#1a1a1a" stroke="#1a1a1a" stroke-width="0.18" text-anchor="middle">-2</text>
<text x="135.23" y="212.48" font-size="10.5" fill="#1a1a1a" stroke="#1a1a1a" stroke-width="0.18" text-anchor="middle">0</text>
<text x="178.05" y="212.98" font-size="10.5" fill="#1a1a1a" stroke="#1a1a1a" stroke-width="0.18" text-anchor="middle">2</text>
<text x="321.70" y="212.53" font-size="10.5" fill="#1a1a1a" stroke="#1a1a1a" stroke-width="0.18" text-anchor="middle">-2</text>
<text x="366.02" y="212.82" font-size="10.5" fill="#1a1a1a" stroke="#1a1a1a" stroke-width="0.18" text-anchor="middle">0</text>
<text x="411.47" y="212.71" font-size="10.5" fill="#1a1a1a" stroke="#1a1a1a" stroke-width="0.18" text-anchor="middle">2</text>
<text x="551.72" y="213.10" font-size="10.5" fill="#1a1a1a" stroke="#1a1a1a" stroke-width="0.18" text-anchor="middle">-2</text>
<text x="598.86" y="213.01" font-size="10.5" fill="#1a1a1a" stroke="#1a1a1a" stroke-width="0.18" text-anchor="middle">0</text>
<text x="642.04" y="213.62" font-size="10.5" fill="#1a1a1a" stroke="#1a1a1a" stroke-width="0.18" text-anchor="middle">2</text>
<text x="89.70" y="427.06" font-size="10.5" fill="#1a1a1a" stroke="#1a1a1a" stroke-width="0.18" text-anchor="middle">-2</text>
<text x="142.02" y="426.68" font-size="10.5" fill="#1a1a1a" stroke="#1a1a1a" stroke-width="0.18" text-anchor="middle">0</text>
<text x="192.98" y="426.95" font-size="10.5" fill="#1a1a1a" stroke="#1a1a1a" stroke-width="0.18" text-anchor="middle">2</text>
<text x="325.56" y="427.84" font-size="10.5" fill="#1a1a1a" stroke="#1a1a1a" stroke-width="0.18" text-anchor="middle">-2</text>
<text x="375.51" y="427.77" font-size="10.5" fill="#1a1a1a" stroke="#1a1a1a" stroke-width="0.18" text-anchor="middle">0</text>
<text x="423.69" y="427.79" font-size="10.5" fill="#1a1a1a" stroke="#1a1a1a" stroke-width="0.18" text-anchor="middle">2</text>
<text x="555.25" y="428.56" font-size="10.5" fill="#1a1a1a" stroke="#1a1a1a" stroke-width="0.18" text-anchor="middle">-2</text>
<text x="607.76" y="428.52" font-size="10.5" fill="#1a1a1a" stroke="#1a1a1a" stroke-width="0.18" text-anchor="middle">0</text>
<text x="658.56" y="428.48" font-size="10.5" fill="#1a1a1a" stroke="#1a1a1a" stroke-width="0.18" text-anchor="middle">2</text>
<text x="53.11" y="189.84" font-size="10.5" fill="#1a1a1a" stroke="#1a1a1a" stroke-width="0.2"><tspan font-style="italic">P</tspan>=0.03</text>
<text x="286.16" y="189.26" font-size="10.5" fill="#1a1a1a" stroke="#1a1a1a" stroke-width="0.2"><tspan font-style="italic">P</tspan>=0.002</text>
<text x="517.17" y="189.57" font-size="10.5" fill="#1a1a1a" stroke="#1a1a1a" stroke-width="0.2"><tspan font-style="italic">P</tspan>=0.60</text>
<text x="50.40" y="406.04" font-size="10.5" fill="#1a1a1a" stroke="#1a1a1a" stroke-width="0.2"><tspan font-style="italic">P</tspan>=0.17</text>
<text x="285.12" y="405.48" font-size="10.5" fill="#1a1a1a" stroke="#1a1a1a" stroke-width="0.2"><tspan font-style="italic">P</tspan>=0.22</text>
<text x="512.92" y="405.55" font-size="10.5" fill="#1a1a1a" stroke="#1a1a1a" stroke-width="0.2"><tspan font-style="italic">P</tspan>=0.66</text>
<text transform="translate(131.28,227.56) scale(1,0.88)" font-size="11.5" font-weight="bold" fill="#0d0d0d" text-anchor="middle">hCG (SD)</text>
<text transform="translate(362.22,228.13) scale(1,0.88)" font-size="11.5" font-weight="bold" fill="#0d0d0d" text-anchor="middle">hCG (SD)</text>
<text transform="translate(600.05,228.24) scale(1,0.88)" font-size="11.5" font-weight="bold" fill="#0d0d0d" text-anchor="middle">hCG (SD)</text>
<text transform="translate(139.62,442.78) scale(1,0.88)" font-size="11.5" font-weight="bold" fill="#0d0d0d" text-anchor="middle">hCG (SD)</text>
<text transform="translate(368.45,442.51) scale(1,0.88)" font-size="11.5" font-weight="bold" fill="#0d0d0d" text-anchor="middle">hCG (SD)</text>
<text transform="translate(604.05,442.54) scale(1,0.88)" font-size="11.5" font-weight="bold" fill="#0d0d0d" text-anchor="middle">hCG (SD)</text>
<text transform="translate(10.14,106.95) rotate(-90) scale(1,0.88)" font-size="11.5" font-weight="bold" fill="#0d0d0d" text-anchor="middle">Birth weight (SD)</text>
<text transform="translate(243.65,111.95) rotate(-90) scale(1,0.88)" font-size="11.5" font-weight="bold" fill="#0d0d0d" text-anchor="middle">Birth weight (SD)</text>
<text transform="translate(474.43,110.39) rotate(-90) scale(1,0.88)" font-size="11.5" font-weight="bold" fill="#0d0d0d" text-anchor="middle">Birth weight (SD)</text>
<text transform="translate(11.19,327.05) rotate(-90) scale(1,0.88)" font-size="11.5" font-weight="bold" fill="#0d0d0d" text-anchor="middle">Risk of SGA (p)</text>
<text transform="translate(245.12,327.89) rotate(-90) scale(1,0.88)" font-size="11.5" font-weight="bold" fill="#0d0d0d" text-anchor="middle">Risk of SGA (p)</text>
<text transform="translate(473.30,327.89) rotate(-90) scale(1,0.88)" font-size="11.5" font-weight="bold" fill="#0d0d0d" text-anchor="middle">Risk of SGA (p)</text>
<text transform="translate(133.17,12.75) scale(1,0.96)" font-size="12.4" fill="#1a1a1a" stroke="#1a1a1a" stroke-width="0.1" text-anchor="middle">11th week</text>
<text transform="translate(365.62,12.23) scale(1,0.96)" font-size="12.4" fill="#1a1a1a" stroke="#1a1a1a" stroke-width="0.1" text-anchor="middle">12th week</text>
<text transform="translate(595.47,11.72) scale(1,0.96)" font-size="12.4" fill="#1a1a1a" stroke="#1a1a1a" stroke-width="0.1" text-anchor="middle">13th week</text>
<text transform="translate(135.91,22.74) scale(1,0.96)" font-size="9.7" fill="#222" stroke="#222" stroke-width="0.08" text-anchor="middle">(<tspan font-style="italic">N</tspan>=254)</text>
<text transform="translate(367.27,22.32) scale(1,0.96)" font-size="9.7" fill="#222" stroke="#222" stroke-width="0.08" text-anchor="middle">(<tspan font-style="italic">N</tspan>=783)</text>
<text transform="translate(596.51,21.75) scale(1,0.96)" font-size="9.7" fill="#222" stroke="#222" stroke-width="0.08" text-anchor="middle">(<tspan font-style="italic">N</tspan>=1412)</text>
</svg></body></html>
